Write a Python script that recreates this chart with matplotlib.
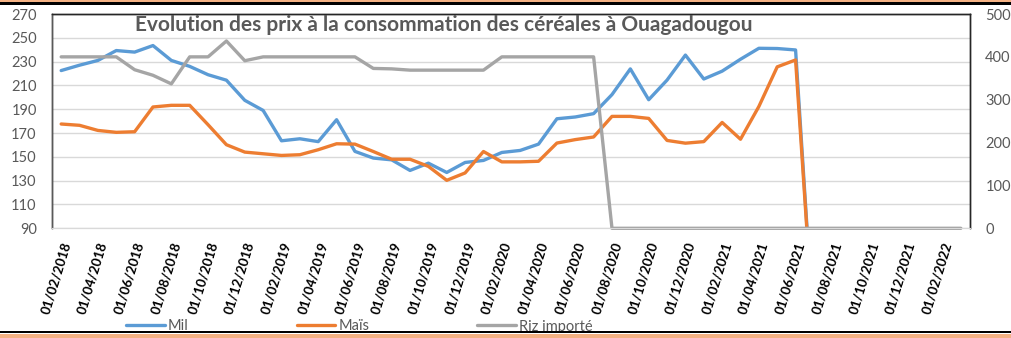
import matplotlib
matplotlib.use("Agg")
import matplotlib.pyplot as plt
from matplotlib.patches import Rectangle
from matplotlib.transforms import ScaledTranslation
import pandas as pd

plt.rcParams['font.family'] = ['Lato', 'DejaVu Sans']

# monthly price series, Feb 2018 -> Mar 2022
months = pd.date_range("2018-02-01", "2022-03-01", freq="MS")

mil = [222.5, 227, 231, 239.3, 238, 243.5, 231, 226, 219, 214.4,
       197.5, 189, 163.5, 165.2, 162.8, 181.2, 154.6, 149, 147.5, 138.6,
       144.7, 136.9, 145.3, 147, 153.7, 155.4, 160.7, 182, 183.5, 186.3,
       202.3, 223.9, 198, 214.5, 235.5, 215.4, 222, 232, 241.2, 241,
       239.8, 0, 0, 0, 0, 0, 0, 0, 0, 0]
mais = [177.6, 176.5, 172.2, 170.6, 171.1, 191.9, 193.3, 193.3, 177, 160.2,
        154, 152.6, 151.2, 151.8, 156, 161, 160.7, 154.5, 148, 148,
        142, 130.3, 136.5, 154.5, 145.8, 145.8, 146.3, 161.6, 164.5, 166.7,
        184, 184, 182.3, 163.8, 161.5, 162.8, 178.9, 164.8, 192.3, 225.6,
        231.4, 0, 0, 0, 0, 0, 0, 0, 0, 0]
riz = [400, 400, 400, 400, 370, 357, 337, 400, 400, 437,
       391, 400, 400, 400, 400, 400, 400, 373, 372, 369,
       369, 369, 369, 369, 400, 400, 400, 400, 400, 400,
       0, 0, 0, 0, 0, 0, 0, 0, 0, 0,
       0, 0, 0, 0, 0, 0, 0, 0, 0, 0]

BLUE = "#5B9BD5"
ORANGE = "#ED7D31"
GREY = "#A5A5A5"
TXT = "#595959"
W, H = 1012, 338

fig = plt.figure(figsize=(W / 100, H / 100), dpi=100)
ax = fig.add_axes([52 / W, 1 - 228.3 / H, 918 / W, 214.3 / H])
ax2 = ax.twinx()

x = list(range(len(months)))
lineKw = dict(lw=2.4, solid_capstyle='round', solid_joinstyle='round')
l1, = ax.plot(x, mil, color=BLUE, label="Mil", **lineKw)
l2, = ax.plot(x, mais, color=ORANGE, label="Maïs", **lineKw)
l3, = ax2.plot(x, riz, color=GREY, label="Riz importé", clip_on=False, **lineKw)

ax.set_xlim(-0.5, len(months) - 0.5)
ax.set_ylim(90, 270)
ax.set_yticks(range(90, 271, 20))
ax2.set_ylim(0, 500)
ax2.set_yticks(range(0, 501, 100))
ax.grid(axis='y', color='#D9D9D9', lw=1)
ax.set_axisbelow(True)

ax.set_xticks(x[::2])
ax.set_xticklabels([m.strftime("%d/%m/%Y") for m in months[::2]],
                   rotation=73, ha='right', va='top', rotation_mode='anchor',
                   fontweight='bold', fontsize=9.6, color='black')
shift = ScaledTranslation(4 / 100, 0, fig.dpi_scale_trans)
for lbl in ax.get_xticklabels():
    lbl.set_transform(lbl.get_transform() + shift)

ax.tick_params(axis='x', length=0, pad=9)
ax.tick_params(axis='y', length=0, pad=11, labelsize=10.5, labelcolor=TXT)
ax2.tick_params(axis='y', length=0, pad=11, labelsize=10.5, labelcolor=TXT)

for a in (ax, ax2):
    for side in ('left', 'right', 'top'):
        a.spines[side].set_color('#262626')
        a.spines[side].set_linewidth(1)
    a.spines['bottom'].set_color('#D9D9D9')
ax2.spines['left'].set_color('#595959')

fig.text(444 / W, 1 - 25 / H,
         "Evolution des prix à la consommation des céréales à Ouagadougou",
         ha='center', va='center', fontsize=15, fontweight='bold', color=TXT)

fig.legend([l1, l2, l3], ["Mil", "Maïs", "Riz importé"],
           loc='center left', bbox_to_anchor=(126 / W, 1 - 326.5 / H),
           ncol=3, frameon=False, fontsize=10.5, labelcolor=TXT,
           handlelength=2.67, handletextpad=0.2, columnspacing=7.4,
           borderpad=0, borderaxespad=0)

# frame bands top and bottom
def band(y0, y1, color):
    fig.add_artist(Rectangle((0, 1 - y1 / H), 1, (y1 - y0) / H,
                             transform=fig.transFigure, color=color,
                             lw=0, zorder=20))

band(330.7, 338, 'white')
band(330.7, 332.9, 'black')
band(333.8, 338, '#F4B183')
band(0, 2.4, '#F4B183')
band(2.4, 5.4, 'black')

fig.savefig("out.png", dpi=100)
